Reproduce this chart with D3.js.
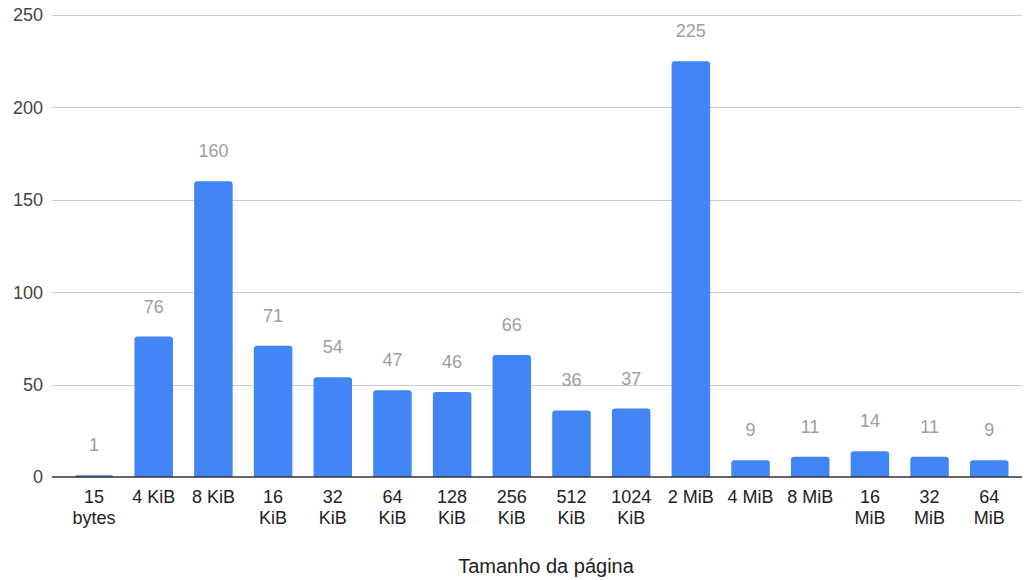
<!DOCTYPE html>
<html>
<head>
<meta charset="utf-8">
<script src="https://cdn.jsdelivr.net/npm/d3@7"></script>
<style>
  html, body { margin: 0; padding: 0; background: #fff; }
  svg { display: block; font-family: "Liberation Sans", Arial, sans-serif; }
</style>
</head>
<body>
<svg id="chart" width="1025" height="580"></svg>
<script>
// Page-size categories and counts
const categories = ["15 bytes", "4 KiB", "8 KiB", "16 KiB", "32 KiB", "64 KiB", "128 KiB", "256 KiB",
  "512 KiB", "1024 KiB", "2 MiB", "4 MiB", "8 MiB", "16 MiB", "32 MiB", "64 MiB"];
const counts = [1, 76, 160, 71, 54, 47, 46, 66, 36, 37, 225, 9, 11, 14, 11, 9];
const yTicks = [0, 50, 100, 150, 200, 250];
const xTitle = "Tamanho da página";

const svg = d3.select("#chart");
const fontSize = 18;

const gridLeft = 52, gridRight = 1022;
const x = d3.scaleBand().domain(categories).range([64.2, 1019.1]).paddingInner(0.355).paddingOuter(0.1775);
const y = d3.scaleLinear().domain([0, 250]).range([477, 15]);

// Horizontal gridlines
svg.append("g").selectAll("line").data(yTicks.filter(d => d !== 0)).join("line")
  .attr("x1", gridLeft).attr("x2", gridRight)
  .attr("y1", d => Math.round(y(d)) + 0.5).attr("y2", d => Math.round(y(d)) + 0.5)
  .attr("stroke", "#cccccc").attr("stroke-width", 1);

// Y tick labels
svg.append("g").selectAll("text").data(yTicks).join("text")
  .attr("x", 43).attr("y", d => y(d))
  .attr("dy", "0.35em")
  .attr("text-anchor", "end")
  .attr("font-size", fontSize)
  .attr("fill", "#444")
  .text(d => d);

// Bars with slightly rounded top corners
const r = 3;
function barPath(d, i) {
  const x0 = x(categories[i]), w = x.bandwidth();
  const y0 = y(d), y1 = y(0);
  const rr = Math.min(r, (y1 - y0));
  return `M${x0},${y1}V${y0 + rr}Q${x0},${y0} ${x0 + rr},${y0}H${x0 + w - rr}Q${x0 + w},${y0} ${x0 + w},${y0 + rr}V${y1}Z`;
}
svg.append("g").selectAll("path").data(counts).join("path")
  .attr("d", barPath)
  .attr("fill", "#4285f4");

// Value labels
svg.append("g").selectAll("text").data(counts).join("text")
  .attr("x", (d, i) => x(categories[i]) + x.bandwidth() / 2)
  .attr("y", d => y(d) - 24)
  .attr("text-anchor", "middle")
  .attr("font-size", fontSize)
  .attr("fill", "#9e9e9e")
  .text(d => d);

// Baseline
svg.append("line")
  .attr("x1", gridLeft).attr("x2", gridRight)
  .attr("y1", y(0)).attr("y2", y(0))
  .attr("stroke", "#333").attr("stroke-width", 1.5);

// Category labels, wrapped when wider than the slot
const xLab = svg.append("g");
const maxW = 50;
categories.forEach((c, i) => {
  const cx = x(c) + x.bandwidth() / 2;
  const t = xLab.append("text")
    .attr("x", cx).attr("y", 503)
    .attr("text-anchor", "middle")
    .attr("font-size", fontSize)
    .attr("fill", "#222")
    .text(c);
  if (t.node().getComputedTextLength() > maxW) {
    const words = c.split(" ");
    t.text(null);
    t.append("tspan").attr("x", cx).attr("y", 503).text(words[0]);
    t.append("tspan").attr("x", cx).attr("y", 524).text(words.slice(1).join(" "));
  }
});

// Axis title
svg.append("text")
  .attr("x", 546).attr("y", 573)
  .attr("text-anchor", "middle")
  .attr("font-size", 20)
  .attr("fill", "#222")
  .text(xTitle);
</script>
</body>
</html>
